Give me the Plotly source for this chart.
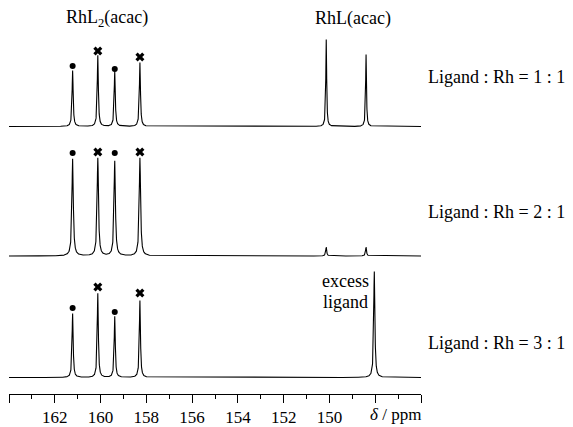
import numpy as np
import plotly.graph_objects as go

# ---------------- data ----------------
# chemical shift axis (ppm)
x_start, x_end = 164.0, 146.0
major_ticks = [164, 162, 160, 158, 156, 154, 152, 150, 148, 146]
major_text = ["", "162", "160", "158", "156", "154", "152", "150", "", ""]
minor_ticks = [163, 161, 159, 157, 155, 153, 151, 149, 147]

# peak tables: position (ppm), height (arb.), half width (ppm)
top_pos = [161.22, 160.12, 159.38, 158.28, 150.14, 148.40]
top_height = [56, 71, 55, 64, 87, 72]
top_width = [0.028, 0.028, 0.028, 0.028, 0.022, 0.022]
top_offset = 267.5

mid_pos = [161.22, 160.12, 159.38, 158.28, 150.14, 148.40]
mid_height = [97, 98, 95, 98, 9, 9]
mid_width = [0.035, 0.035, 0.035, 0.035, 0.025, 0.025]
mid_offset = 138

bot_pos = [161.22, 160.12, 159.38, 158.28, 148.04]
bot_height = [64, 84, 61, 77, 106]
bot_width = [0.028, 0.028, 0.028, 0.028, 0.03]
bot_offset = 16.5

# peak markers: dots (bullet) and crosses over the RhL2(acac) lines
dot_pos = [161.22, 159.38]
cross_pos = [160.12, 158.28]
top_dot_y = [328, 325]
top_cross_y = [343, 337]
mid_dot_y = [241, 241]
mid_cross_y = [242, 242]
bot_dot_y = [86, 82]
bot_cross_y = [107, 101]

ratio_labels = ["Ligand : Rh = 1 : 1", "Ligand : Rh = 2 : 1", "Ligand : Rh = 3 : 1"]
ratio_label_y = [317, 182, 51]

FONT = "Liberation Serif, Times New Roman, serif"

# ---------------- build spectra ----------------
x = np.round(np.arange(x_end, x_start + 0.0001, 0.004), 4)


def spectrum(pos, height, width, offset):
    y = np.zeros_like(x)
    for p, h, w in zip(pos, height, width):
        y += h * w ** 2 / ((x - p) ** 2 + w ** 2)
    return y + offset


fig = go.Figure()
for pos, hgt, wid, off in [
    (top_pos, top_height, top_width, top_offset),
    (mid_pos, mid_height, mid_width, mid_offset),
    (bot_pos, bot_height, bot_width, bot_offset),
]:
    fig.add_trace(go.Scatter(x=x, y=spectrum(pos, hgt, wid, off), mode="lines",
                             line=dict(color="black", width=1.1), hoverinfo="skip",
                             showlegend=False))

dot_y = top_dot_y + mid_dot_y + bot_dot_y
cross_y = top_cross_y + mid_cross_y + bot_cross_y
fig.add_trace(go.Scatter(x=dot_pos * 3, y=dot_y, mode="markers",
                         marker=dict(symbol="circle", size=6, color="black"),
                         showlegend=False, hoverinfo="skip"))
fig.add_trace(go.Scatter(x=cross_pos * 3, y=cross_y, mode="markers",
                         marker=dict(symbol="x", size=8, color="black",
                                     line=dict(width=0)),
                         showlegend=False, hoverinfo="skip"))

annotations = [
    dict(x=159.73, y=376, xref="x", yref="y", text="RhL<sub>2</sub>(acac)",
         showarrow=False, xanchor="center", yanchor="middle",
         font=dict(family=FONT, size=18, color="black")),
    dict(x=148.96, y=376, xref="x", yref="y", text="RhL(acac)",
         showarrow=False, xanchor="center", yanchor="middle",
         font=dict(family=FONT, size=18, color="black")),
    dict(x=149.3, y=113, xref="x", yref="y", text="excess",
         showarrow=False, xanchor="center", yanchor="middle",
         font=dict(family=FONT, size=18, color="black")),
    dict(x=149.3, y=92, xref="x", yref="y", text="ligand",
         showarrow=False, xanchor="center", yanchor="middle",
         font=dict(family=FONT, size=18, color="black")),
    dict(x=0.939, y=-0.053, xref="paper", yref="paper", text="<i>δ</i> / ppm",
         showarrow=False, xanchor="center", yanchor="middle",
         font=dict(family=FONT, size=17, color="black")),
]
for txt, yy in zip(ratio_labels, ratio_label_y):
    annotations.append(dict(x=1.012, y=yy, xref="paper", yref="y", text=txt,
                            showarrow=False, xanchor="left", yanchor="middle",
                            font=dict(family=FONT, size=18, color="black")))

fig.update_layout(
    width=573, height=427,
    margin=dict(l=9, r=152, t=0, b=33),
    paper_bgcolor="white", plot_bgcolor="white",
    font=dict(family=FONT, size=17, color="black"),
    annotations=annotations,
    xaxis=dict(range=[x_start, x_end], showgrid=False, zeroline=False,
               showline=True, linecolor="black", linewidth=1,
               ticks="outside", ticklen=8, tickwidth=1, tickcolor="black",
               tickmode="array", tickvals=major_ticks, ticktext=major_text,
               tickfont=dict(family=FONT, size=17, color="black"),
               minor=dict(tickmode="array", tickvals=minor_ticks, ticks="outside",
                          ticklen=4, tickwidth=1, tickcolor="black", showgrid=False)),
    yaxis=dict(range=[0, 394], visible=False, fixedrange=True),
)

fig.write_html("out.html")
